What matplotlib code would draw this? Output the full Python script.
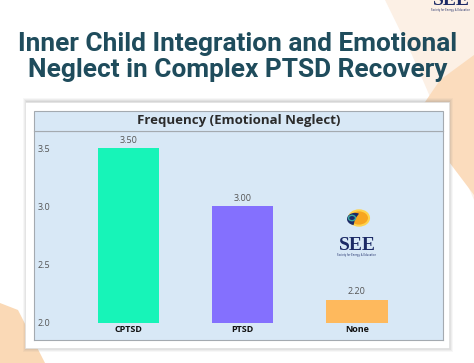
import matplotlib
matplotlib.use('agg')
import matplotlib.pyplot as plt
from matplotlib.patches import Rectangle, Polygon, Circle, Wedge

categories = ['CPTSD', 'PTSD', 'None']
values = [3.50, 3.00, 2.20]
bar_colors = ['#17f4b8', '#8470fe', '#feb95d']
yticks = [2.0, 2.5, 3.0, 3.5]

title = 'Inner Child Integration and Emotional\nNeglect in Complex PTSD Recovery'
chart_title = 'Frequency (Emotional Neglect)'

W, H = 474, 363

def fx(x):
    return x / W

def fy(y):
    return 1 - y / H

fig = plt.figure(figsize=(4.74, 3.63), dpi=100)
fig.patch.set_facecolor('white')

# background decoration (peach shapes)
light = Polygon([(fx(385), fy(0)), (fx(474), fy(0)), (fx(474), fy(200)),
                 (fx(440), fy(120)), (fx(412), fy(55))],
                closed=True, transform=fig.transFigure, fc='#fcf0e5', ec='none', zorder=0)
strong = Polygon([(fx(474), fy(55)), (fx(440), fy(80)), (fx(423), fy(105)),
                  (fx(440), fy(150)), (fx(474), fy(195))],
                 closed=True, transform=fig.transFigure, fc='#fbdcbd', ec='none', zorder=0)
hand = Polygon([(fx(0), fy(303)), (fx(18), fy(310)), (fx(45), fy(363)), (fx(0), fy(363))],
               closed=True, transform=fig.transFigure, fc='#fad9b6', ec='none', zorder=0)
for p in (light, strong, hand):
    fig.patches.append(p)

# card with soft shadow
for off, a in [(4, 0.06), (3, 0.08), (2, 0.10), (1, 0.12)]:
    fig.patches.append(Rectangle((fx(25 - off + 2), fy(348 + off)), fx(424 + 2 * off - 2), (246 + 2 * off) / H,
                                 transform=fig.transFigure, fc='#808080', ec='none', alpha=a, zorder=1))
fig.patches.append(Rectangle((fx(25), fy(348)), fx(424), 246 / H,
                             transform=fig.transFigure, fc='white', ec='#e0e0e0', lw=0.5, zorder=2))

# chart title strip
fig.patches.append(Rectangle((fx(34), fy(131)), fx(409), 20 / H,
                             transform=fig.transFigure, fc='#d8e8f6', ec='#a4aab0', lw=0.8, zorder=3))
fig.text(fx(239), fy(121), chart_title, ha='center', va='center', fontsize=9.5,
         fontweight='bold', color='#2b2b2b', family='Open Sans', zorder=4)

# main title
fig.text(fx(238), fy(57), title, ha='center', va='center', fontsize=18.9, fontweight='bold',
         color='#1f4c5c', family='Roboto', linespacing=1.12, zorder=4)

# top-right logo (cut off by the top edge)
fig.text(fx(451), fy(5), 'SEE', ha='center', va='baseline', fontsize=14, fontweight='bold',
         color='#1c2a66', family='Liberation Serif', zorder=4)
fig.text(fx(451), fy(9.5), 'Society for Energy & Education', ha='center', va='center', fontsize=1.8,
         color='#1c2a66', zorder=4)

ax = fig.add_axes([fx(34), fy(340), fx(409), 209 / H])
ax.set_facecolor('#d8e8f6')
ax.set_zorder(3)
for s in ax.spines.values():
    s.set_color('#a4aab0')
    s.set_linewidth(0.8)

x = list(range(len(categories)))
ax.bar(x, [v - 2.0 for v in values], bottom=2.0, width=0.535, color=bar_colors, zorder=2)

for i, v in zip(x, values):
    ax.annotate(f'{v:.2f}', (i, v), xytext=(0, 2.5), textcoords='offset points',
                ha='center', va='bottom', fontsize=6.5, color='#555555', family='Open Sans')
    ax.annotate(categories[i], (i, 2.0), xytext=(0, -1.5), textcoords='offset points',
                ha='center', va='top', fontsize=6.5, fontweight='bold', color='#111111',
                family='Open Sans')

ax.set_xlim(-0.827, 2.753)
ax.set_ylim(1.854, 3.646)
ax.set_xticks([])
ax.set_yticks(yticks)
ax.set_yticklabels([f'{t:.1f}' for t in yticks])
ax.tick_params(axis='y', length=0, pad=-2.3, labelsize=6.5, labelcolor='#555555')
for lab in ax.get_yticklabels():
    lab.set_horizontalalignment('left')
    lab.set_family('Open Sans')

# logo inside chart
sun = Circle((fx(359), fy(218)), 10 / W, transform=fig.transFigure, fc='#f7a520', ec='#ffd34d',
             lw=1.5, zorder=5)
head = Wedge((fx(355), fy(219)), 8 / W, 60, 260, transform=fig.transFigure, fc='#1c2a66',
             ec='none', zorder=6)
swirl = Circle((fx(352), fy(218)), 3.5 / W, transform=fig.transFigure, fc='none', ec='#3aa8a0',
               lw=1.0, zorder=7)
for p in (sun, head, swirl):
    fig.patches.append(p)
fig.text(fx(357), fy(246), 'SEE', ha='center', va='center', fontsize=14, fontweight='bold',
         color='#1c2a66', family='Liberation Serif', zorder=7)
fig.text(fx(357), fy(255), 'Society for Energy & Education', ha='center', va='center', fontsize=1.8,
         color='#1c2a66', zorder=7)

fig.savefig('out.png', dpi=100)
